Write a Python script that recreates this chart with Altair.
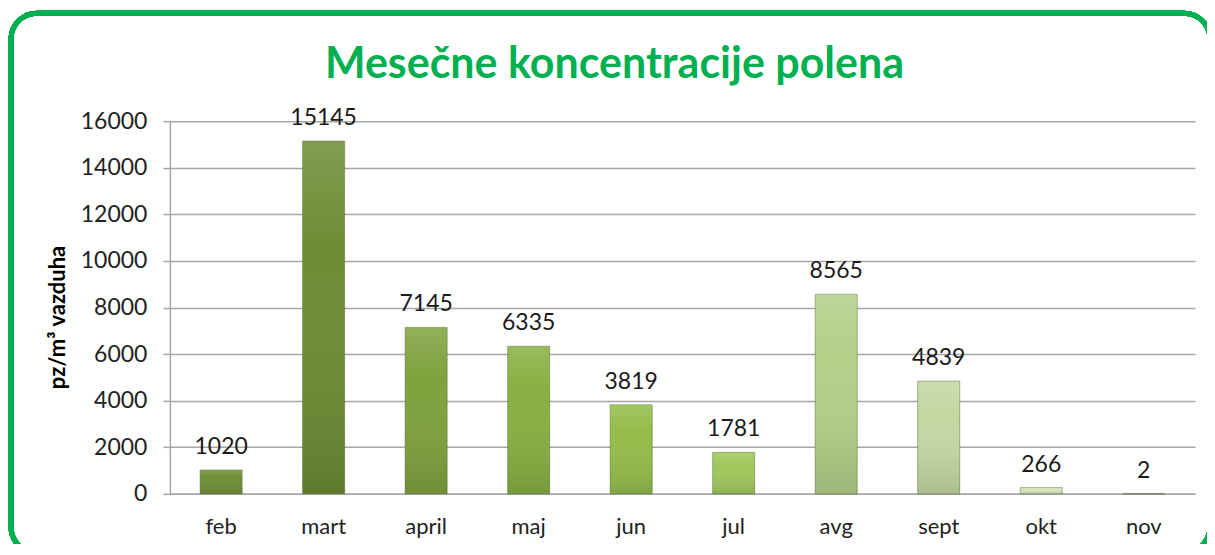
import altair as alt
import pandas as pd

months = ["feb", "mart", "april", "maj", "jun", "jul", "avg", "sept", "okt", "nov"]
values = [1020, 15145, 7145, 6335, 3819, 1781, 8565, 4839, 266, 2]
bar_colors = ["#6f8f35", "#6c8d34", "#7ea23d", "#88af42", "#93bd4a", "#9fc75c",
              "#b3cf88", "#c3d7a3", "#d6e4bf", "#e8efdc"]
y_ticks = [0, 2000, 4000, 6000, 8000, 10000, 12000, 14000, 16000]
title_text = "Mesečne koncentracije polena"

df = pd.DataFrame({"mesec": months, "vrednost": values, "boja": bar_colors})

W, H = 1026, 373
FONT = "Lato"

x_enc = alt.X("mesec:N", sort=months,
              scale=alt.Scale(paddingInner=0.59, paddingOuter=0.295),
              axis=alt.Axis(title=None, labelAngle=0, labelFontSize=22, labelFont=FONT,
                            labelColor="#222222", labelPadding=23, ticks=False,
                            domainColor="#a6a6a6", domainWidth=1.5, grid=False))
y_enc = alt.Y("vrednost:Q", scale=alt.Scale(domain=[0, 16000], nice=False),
              axis=alt.Axis(values=y_ticks, format="d", title="pz/m³ vazduha", titleFont=FONT,
                            titleFontSize=22, titleFontWeight="bold", titleColor="#000000",
                            titlePadding=11, titleY=196, labelFontSize=23, labelFont=FONT,
                            labelColor="#222222", labelPadding=16, tickSize=7,
                            tickColor="#a6a6a6", tickWidth=1.5, domainColor="#a6a6a6",
                            domainWidth=1.5, gridColor="#a6a6a6", gridWidth=1.5))

bars = alt.Chart(df).mark_bar(stroke="#4e6a22", strokeWidth=0.8, strokeOpacity=0.6).encode(
    x=x_enc, y=y_enc,
    color=alt.Color("boja:N", scale=None, legend=None),
)

shade = alt.Chart(df).mark_bar(
    color=alt.Gradient(gradient="linear", x1=0, x2=0, y1=0, y2=1,
                       stops=[alt.GradientStop(color="rgba(255,255,255,0.15)", offset=0),
                              alt.GradientStop(color="rgba(255,255,255,0)", offset=0.3),
                              alt.GradientStop(color="rgba(0,0,0,0.12)", offset=1)])
).encode(x=alt.X("mesec:N", sort=months), y="vrednost:Q")

labels = alt.Chart(df).mark_text(baseline="alphabetic", dy=-16, fontSize=23, font=FONT,
                                 color="#1a1a1a").encode(
    x=alt.X("mesec:N", sort=months), y="vrednost:Q", text="vrednost:Q")

title = alt.Chart(pd.DataFrame({"t": [title_text]})).mark_text(
    font=FONT, fontSize=43, fontWeight="bold", color="#00b050",
    align="center", baseline="alphabetic").encode(
    x=alt.value(445), y=alt.value(-43), text="t:N")

border = alt.Chart(df).mark_rect(filled=False, stroke="#00b050", strokeWidth=5,
                                 cornerRadius=26).encode(
    x=alt.value(-159), x2=alt.value(1041), y=alt.value(-108), y2=alt.value(432))

chart = alt.layer(bars, shade, labels, title, border).properties(
    width=W, height=H,
    autosize=alt.AutoSizeParams(type="none"),
    padding={"left": 162, "top": 113, "right": 12, "bottom": 50},
).configure_view(stroke=None)

chart.save("out.html", embed_options={"renderer": "svg", "actions": False})
